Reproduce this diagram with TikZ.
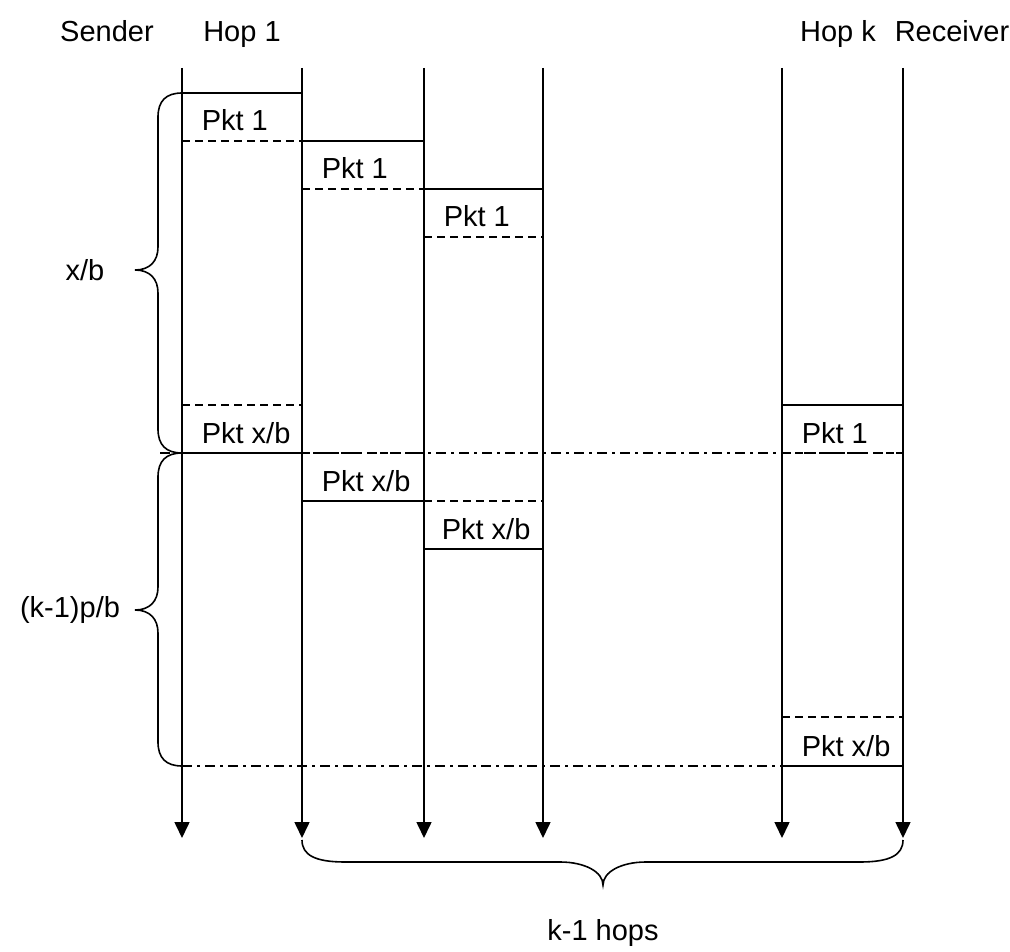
\documentclass[tikz,border=0pt]{standalone}
\usepackage{fontspec}
\setmainfont{Liberation Sans}
\usetikzlibrary{arrows.meta}
\begin{document}
\begin{tikzpicture}[x=1pt,y=-1pt,
  line width=1.6pt,
  lifeline/.style={-{Triangle[width=15pt,length=16pt]}},
  dashedge/.style={dash pattern=on 8pt off 5pt},
  dashdot/.style={line width=1.4pt, dash pattern=on 10pt off 5pt on 3pt off 5pt},
  lbl/.style={font=\fontsize{29}{33}\selectfont, inner sep=0pt},
  pkt/.style={lbl, anchor=base west},
  hdr/.style={lbl, anchor=base},
]
\useasboundingbox (0,0) rectangle (1010,952);

% lifelines
\foreach \n/\x in {S/182,A/302,B/424,C/543,K/782,R/903}{
  \coordinate (\n t) at (\x,68);
  \coordinate (\n b) at (\x,838);
}
\foreach \n in {S,A,B,C,K,R}{
  \draw[lifeline] (\n t) -- (\n b);
}

% headers
\node[hdr] (hS) at (107,42) {Sender};
\node[hdr] (hA) at (242,42) {Hop 1};
\node[hdr] (hK) at (838,42) {Hop k};
\node[hdr] (hR) at (952,42) {Receiver};

% dash-dot time marks
\draw[dashdot] (160,453) -- (903,453);
\draw[dashdot] (182,766) -- (782,766);

% Sender packets
\draw (182,93) -- (302,93);
\draw[dashedge] (182,141) -- (302,141);
\node[pkt] (s1) at (201,131) {Pkt 1};
\draw[dashedge] (182,405) -- (302,405);
\draw (182,453) -- (302,453);
\node[pkt] (sx) at (201,443) {Pkt x/b};

% Hop 1 packets
\draw (302,141) -- (424,141);
\draw[dashedge] (302,189) -- (424,189);
\node[pkt] (a1) at (321,179) {Pkt 1};
\draw[dashedge] (302,453) -- (424,453);
\draw (302,501) -- (424,501);
\node[pkt] (ax) at (321,491) {Pkt x/b};

% Hop 2 packets
\draw (424,189) -- (543,189);
\draw[dashedge] (424,237) -- (543,237);
\node[pkt] (b1) at (443,227) {Pkt 1};
\draw[dashedge] (424,501) -- (543,501);
\draw (424,549) -- (543,549);
\node[pkt] (bx) at (441,539) {Pkt x/b};

% Hop k packets
\draw (782,405) -- (903,405);
\draw[dashedge] (782,453) -- (903,453);
\node[pkt] (k1) at (801,443) {Pkt 1};
\draw[dashedge] (782,717) -- (903,717);
\draw (782,766) -- (903,766);
\node[pkt] (kx) at (801,756) {Pkt x/b};

% left braces
\draw (182,93) .. controls (166,93) and (158,101) .. (158,117)
  -- (158,247) .. controls (158,261) and (150,270) .. (135,270)
  .. controls (150,270) and (158,279) .. (158,293)
  -- (158,429) .. controls (158,445) and (166,453) .. (182,453);
\node[lbl] (lx) at (85,270) {x/b};

\draw (182,453) .. controls (166,453) and (158,461) .. (158,477)
  -- (158,587) .. controls (158,601) and (150,610) .. (135,610)
  .. controls (150,610) and (158,619) .. (158,633)
  -- (158,742) .. controls (158,758) and (166,766) .. (182,766);
\node[lbl] (lk) at (70,610) {(k-1)p/b};

% bottom brace
\draw (302,840) .. controls (302,855) and (315,862) .. (345,862)
  -- (560,862) .. controls (585,862) and (603,872) .. (603,885)
  .. controls (603,872) and (621,862) .. (646,862)
  -- (860,862) .. controls (890,862) and (903,855) .. (903,840);
\node[lbl, anchor=base] (hops) at (603,940) {k-1 hops};
\end{tikzpicture}
\end{document}
